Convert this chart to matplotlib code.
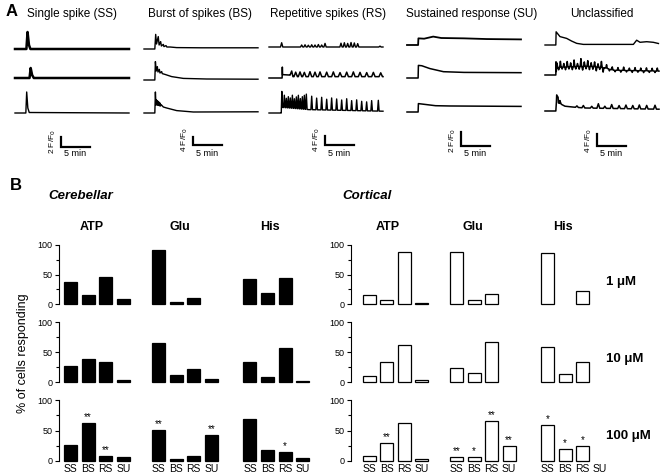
import numpy as np
import matplotlib
matplotlib.use("Agg")
import matplotlib.pyplot as plt

plt.rcParams['font.family'] = ['Liberation Sans', 'DejaVu Sans']

W, H = 662, 476

# ---------------- panel A: example traces (time in min, F/F0 above baseline)
col_titles = ['Single spike (SS)', 'Burst of spikes (BS)', 'Repetitive spikes (RS)',
              'Sustained response (SU)', 'Unclassified']
bar_units = ['2 F/F$_0$', '4 F/F$_0$', '4 F/F$_0$', '2 F/F$_0$', '4 F/F$_0$']
bar_size = [2, 4, 4, 2, 4]

ss_t = [[0, 2.0, 2.2, 2.45, 2.7, 20],
        [0, 2.55, 2.75, 3.0, 3.3, 20],
        [0, 1.9, 2.05, 2.25, 2.5, 20]]
ss_v = [[0, 0, 3.4, 0.8, 0, 0],
        [0, 0, 2.0, 0.6, 0, 0],
        [0, 0, 4.2, 1.0, 0.1, 0]]

bs_t = [[0, 1.9, 2.05, 2.2, 2.5, 2.65, 2.92, 3.05, 3.39, 3.5, 3.86, 4.0, 4.56, 5.73, 10, 15, 20],
        [0, 1.9, 2.0, 2.15, 2.34, 2.45, 2.69, 2.8, 3.1, 3.2, 3.68, 4.85, 6.9, 11, 20],
        [0, 1.9, 2.0, 2.1, 2.2, 2.3, 2.4, 2.5, 2.6, 2.7, 2.8, 2.9, 3.0, 3.39, 3.98, 5.73, 8.65, 20]]
bs_v = [[0, 0, 7.3, 2.5, 6.2, 2.0, 3.7, 1.5, 2.3, 1.2, 1.7, 1.0, 1.0, 0.7, 0.6, 0.6, 0.6],
        [0, 0, 9.2, 4.5, 6.7, 4.0, 5.3, 3.5, 4.2, 3.2, 2.8, 1.7, 0.8, 0.5, 0.4],
        [0, 0, 10.5, 4.0, 6.5, 4.0, 6.0, 3.8, 5.5, 3.6, 5.0, 3.5, 4.2, 3.0, 2.5, 1.2, 0.5, 0.6]]

rs_t = [[0, 20],
        [0, 2.3, 2.38, 3.7, 4.2, 20],
        [0, 2.15, 2.25, 7.0, 20]]
rs_v = [[0, 0],
        [0, 0, 1.5, 1.3, 0.6, 0.6],
        [0, 0, 2.5, 1.5, 0.8]]
rs_spk_t = [[2.22, 5.73, 6.32, 6.9, 7.49, 8.07, 8.66, 9.24, 9.83,
             12.63, 13.22, 13.8, 14.39, 14.97, 15.56, 19.47],
            [2.34, 3.98, 4.68, 5.44, 6.2, 7.19, 8.07, 8.95, 10.12, 11.29, 12.46,
             13.63, 14.8, 15.97, 17.14, 18.31, 19.6],
            [2.25, 2.69, 3.04, 3.39, 3.74, 4.1, 4.45, 4.8, 5.15, 5.5, 5.85, 6.2, 6.55,
             7.49, 8.36, 9.24, 10.12, 10.99, 11.87, 12.75, 13.63, 14.5, 15.38, 16.26,
             17.13, 18.01, 19.18]]
rs_spk_h = [[1.9, 0.9, 1.0, 0.8, 1.0, 0.9, 1.1, 0.9, 1.6,
             1.7, 1.9, 1.6, 2.0, 1.8, 1.5, 0.4],
            [4.1, 2.2, 2.0, 2.1, 1.9, 2.2, 2.0, 2.1, 2.0, 2.1, 1.8,
             2.0, 2.1, 1.9, 1.8, 1.9, 1.7],
            [7.1, 5.5, 4.2, 5.0, 4.5, 5.8, 4.3, 5.2, 6.0, 4.6, 5.5, 6.2, 6.8,
             6.0, 5.2, 5.6, 4.8, 5.4, 5.0, 4.6, 5.2, 4.4, 4.8, 4.2, 4.0, 4.6, 4.8]]

su_t = [[0, 1.95, 2.0, 3.0, 4.6, 6.0, 10, 14, 20],
        [0, 1.95, 2.0, 2.6, 4.0, 6.4, 10, 20],
        [0, 1.95, 2.0, 3.5, 5.0, 7.5, 20]]
su_v = [[0, 0, 0.95, 0.9, 1.2, 1.0, 0.95, 0.85, 0.8],
        [0, 0, 1.8, 1.75, 1.35, 0.9, 0.8, 0.76],
        [0, 0, 1.2, 1.05, 0.9, 0.86, 0.8]]

un_t = [[0, 1.9, 1.95, 2.63, 3.8, 4.68, 5.56, 6.73, 15.5, 16.08, 16.67, 17.84, 19.0, 19.9],
        [0, 1.9, 2.05, 5.0, 8.0, 10.5, 12.0, 20],
        [0, 1.9, 2.0, 2.6, 3.5, 5.0, 7.0, 20]]
un_v = [[0, 0, 4.4, 2.8, 2.2, 1.3, 0.55, 0.2, 0.2, 1.6, 0.9, 1.1, 0.9, 0.5],
        [0, 0, 2.5, 2.8, 2.9, 2.4, 1.6, 1.3],
        [0, 0, 3.0, 2.5, 1.6, 1.3, 1.0, 0.6]]
un_spk_t = [[],
            [1.93, 2.1, 2.4, 2.7, 3.0, 3.3, 3.6, 3.9, 4.2, 4.5, 4.8, 5.1, 5.4, 5.7,
             6.0, 6.3, 6.6, 6.9, 7.2, 7.5, 7.8, 8.1, 8.4, 8.7, 9.0, 9.3, 9.6, 9.9,
             10.2, 10.8, 11.3, 11.8, 12.3, 12.8, 13.3, 13.8, 14.3, 14.8, 15.3, 15.8,
             16.3, 16.8, 17.3, 17.8, 18.3, 18.8, 19.3, 19.7],
            [2.05, 2.3, 2.6, 5.6, 6.73, 8.2, 9.36, 10.5, 11.7, 13.0, 14.2, 15.4, 16.55,
             17.84, 19.3]]
un_spk_h = [[],
            [3.9, 1.5, -0.8, 2.0, -0.6, 1.2, -0.9, 1.8, -0.7, 1.3, -1.0, 2.2, -0.8,
             1.0, -0.9, 2.6, -1.2, 1.5, -0.8, 1.9, -1.1, 1.2, -0.9, 1.6, -1.3, 1.1,
             -0.7, 2.0, -1.5, 1.2, -0.6, 1.0, -0.5, 0.9, -0.6, 1.1, -0.5, 0.8, -0.6,
             1.0, -0.5, 0.9, -0.6, 1.0, -0.5, 0.9, -0.5, 1.0],
            [2.4, 1.8, 1.0, 0.5, 0.8, 0.6, 1.5, 0.7, 1.3, 1.0, 1.2, 1.1, 1.3, 1.2, 1.3]]

# ---------------- panel B: % of cells responding
groups = ['ATP', 'Glu', 'His']
types = ['SS', 'BS', 'RS', 'SU']
concs = ['1 μM', '10 μM', '100 μM']
nan = np.nan

cer_vals = [[[37.6, 14.6, 46, 9], [91, 4, 10.7, nan], [42, 19, 44, nan]],
            [[26.5, 38, 34, 4], [64.6, 11.6, 21, 5.5], [33.7, 8.3, 57.5, 2]],
            [[27, 63, 8.6, 6.5], [51, 2.7, 7.6, 43], [68.6, 17.3, 14, 4.9]]]
cor_vals = [[[15, 6.7, 87.6, 1], [87.6, 6, 17, nan], [86.5, nan, 22, nan]],
            [[10, 33, 62, 3.3], [24, 15.5, 67, nan], [58, 14, 34, nan]],
            [[8, 30, 62, 2.7], [6.5, 6.5, 66, 24], [59.5, 19.5, 25, nan]]]
cer_stars = [['', '**', '**', ''], ['**', '', '', '**'], ['', '', '*', '']]
cor_stars = [['', '**', '', ''], ['**', '*', '**', '**'], ['*', '*', '*', '']]


def build(bt, bv, st=(), sh=(), dw=0.1):
    t = list(bt)
    for s in st:
        t += [s - dw, s, s + dw]
    t = np.unique(np.clip(t, 0, 20))
    v = np.interp(t, bt, bv)
    for s, h in zip(st, sh):
        v[np.isclose(t, s)] += h
    return t, v


def fax(x0, y0, x1, y1):
    return fig.add_axes([x0 / W, 1 - y1 / H, (x1 - x0) / W, (y1 - y0) / H])


def ftxt(x, y, s, **kw):
    fig.text(x / W, 1 - y / H, s, **kw)


fig = plt.figure(figsize=(W / 100, H / 100), dpi=100)

# ---- panel A layout
ppm = 5.7                                   # px per minute
col_x = [15, 144, 269, 407, 545]
col_k = [5, 2, 2.25, 7, 3]                  # px per F/F0 unit
col_base = [[49, 78, 113], [49, 80, 113], [47, 78, 113], [45, 78, 112], [45, 75, 111]]
col_lw = [[1.8, 1.8, 1.0], [1.0, 1.0, 1.0], [1.0, 1.1, 1.0], [1.3, 1.1, 1.1], [1.0, 1.1, 1.1]]
col_dw = [None, None, [0.2, 0.3, 0.14], None, [0.2, 0.13, 0.25]]
title_x = [72, 200, 328, 472, 602]
sbar_x = [61, 193, 325, 461, 597]
sbar_y = [147, 145, 145, 146, 146]
top, bot = 20, 165

ftxt(6, 12, 'A', fontsize=12, fontweight='bold', va='center')
traces = [(ss_t, ss_v, None, None), (bs_t, bs_v, None, None),
          (rs_t, rs_v, rs_spk_t, rs_spk_h), (su_t, su_v, None, None),
          (un_t, un_v, un_spk_t, un_spk_h)]
for c in range(5):
    k = col_k[c]
    ax = fax(col_x[c], top, col_x[c] + 20 * ppm, bot)
    ax.set_xlim(0, 20)
    ax.set_ylim(0, (bot - top) / k)
    ax.axis('off')
    tt, vv, st, sh = traces[c]
    for r in range(3):
        if st is None:
            t, v = np.array(tt[r]), np.array(vv[r])
        else:
            t, v = build(tt[r], vv[r], st[r], sh[r], col_dw[c][r])
        off = (bot - col_base[c][r]) / k
        ax.plot(t, v + off, color='black', lw=col_lw[c][r], clip_on=False)
    # scale bar
    sx = (sbar_x[c] - col_x[c]) / ppm
    sy = (bot - sbar_y[c]) / k
    ax.plot([sx, sx, sx + 5], [sy + bar_size[c], sy, sy], color='black', lw=1.6,
            solid_joinstyle='miter', clip_on=False)
    ftxt(sbar_x[c] - 8, sbar_y[c] - 5, bar_units[c], fontsize=6, rotation=90,
         ha='center', va='center')
    ftxt(sbar_x[c] + 14, 154, '5 min', fontsize=6.5, ha='center', va='center')
    ftxt(title_x[c], 14, col_titles[c], fontsize=8.5, ha='center', va='center')

# ---- panel B layout
ftxt(10, 186, 'B', fontsize=12, fontweight='bold', va='center')
ftxt(48, 196, 'Cerebellar', fontsize=9.5, fontweight='bold', fontstyle='italic', va='center')
ftxt(342, 196, 'Cortical', fontsize=9.5, fontweight='bold', fontstyle='italic', va='center')
for gx, g in zip([92, 180, 270, 388, 473, 563], groups * 2):
    ftxt(gx, 227, g, fontsize=9, fontweight='bold', ha='center', va='center')
ftxt(23, 353, '% of cells responding', fontsize=9, rotation=90, ha='center', va='center')

pitch = 17.6
gpos = [0, 5, 10.2]
row_y = [(245, 304), (322, 382), (400, 461)]
conc_y = [282, 359, 436]
panels = [(59, 311, -0.65, cer_vals, cer_stars, 'black'),
          (351, 600, -1.05, cor_vals, cor_stars, 'white')]
xs = [g + j for g in gpos for j in range(4)]
for x0, x1, xl, vals, stars, fc in panels:
    for r in range(3):
        ax = fax(x0, row_y[r][0], x1, row_y[r][1])
        ax.set_xlim(xl, xl + (x1 - x0) / pitch)
        ax.set_ylim(0, 100)
        for gi in range(3):
            for j in range(4):
                v = vals[r][gi][j]
                if np.isnan(v):
                    continue
                ax.bar(gpos[gi] + j, v, width=0.74, color=fc, edgecolor='black',
                       linewidth=0.9, clip_on=False)
                if r == 2 and stars[gi][j]:
                    ax.text(gpos[gi] + j, v + 1.5, stars[gi][j], fontsize=7,
                            ha='center', va='bottom')
        for s in ['top', 'right', 'bottom']:
            ax.spines[s].set_visible(False)
        ax.spines['left'].set_linewidth(0.8)
        ax.set_yticks([0, 50, 100])
        ax.set_yticks([25, 75], minor=True)
        ax.tick_params(axis='y', which='major', labelsize=6.5, length=3, width=0.8, pad=1.5)
        ax.tick_params(axis='y', which='minor', length=2, width=0.8)
        ax.set_xticks(xs)
        if r == 2:
            ax.set_xticklabels(types * 3, fontsize=7.5)
        else:
            ax.set_xticklabels([])
        ax.tick_params(axis='x', length=0, pad=2)

for r in range(3):
    ftxt(606, conc_y[r], concs[r], fontsize=9.5, fontweight='bold', va='center')

fig.savefig('out.png', dpi=100)
